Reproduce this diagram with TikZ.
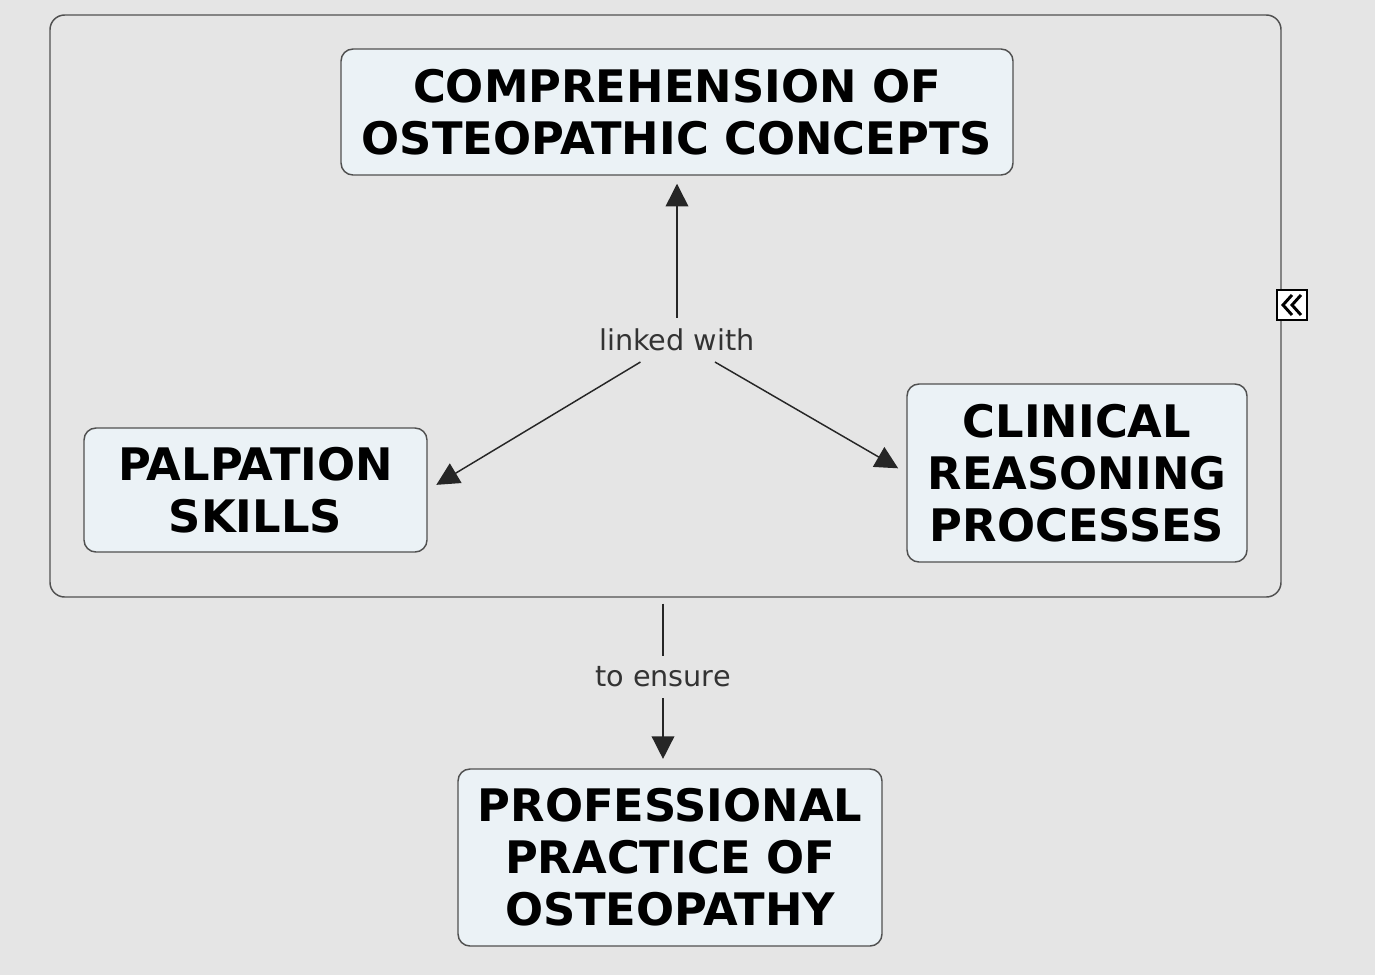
\documentclass[tikz,border=0pt]{standalone}
\usepackage{fontspec}
\setmainfont{DejaVu Sans}
\usepackage{tikz}
\usetikzlibrary{arrows.meta,positioning,calc}
\definecolor{bggray}{RGB}{229,229,229}
\definecolor{conceptfill}{RGB}{235,242,246}
\definecolor{edgegray}{RGB}{80,80,80}

\begin{document}
\begin{tikzpicture}[x=0.75pt,y=-0.75pt,>={Triangle[length=17pt,width=17pt]},
  concept/.style={draw=edgegray,line width=1.1pt,fill=conceptfill,rounded corners=9pt,
    align=center,inner sep=0pt,font=\fontsize{33.6}{39}\selectfont\bfseries},
  phrase/.style={font=\fontsize{21.5}{24}\selectfont,text=black!80,inner xsep=2pt,inner ysep=8pt},
  link/.style={line width=1.1pt,black!85}]
  \fill[bggray] (0,0) rectangle (1375,975);
  \useasboundingbox (0,0) rectangle (1375,975);
  % grouping frame
  \node[draw=edgegray,line width=1.1pt,rounded corners=11pt,minimum width=923.25pt,minimum height=436.5pt] (group) at (665.5,306) {};
  \node[draw=black,fill=white,line width=1pt,minimum size=22.5pt,inner sep=0pt] (collapse) at (1292,305) {};
  \foreach \dx in {0,9}
    \draw[line width=2.2pt] ([shift={(\dx,-10)}]collapse.center) -- ++(-9,10) -- ++(9,10);
  % concepts
  \node[concept,minimum width=504pt,minimum height=94.5pt] (comp) at (677,112) {COMPREHENSION OF\\OSTEOPATHIC CONCEPTS};
  \node[concept,minimum width=257.25pt,minimum height=93pt] (palp) at (255.5,490) {PALPATION\\SKILLS};
  \node[concept,minimum width=255pt,minimum height=133.5pt] (clin) at (1077,473) {CLINICAL\\REASONING\\PROCESSES};
  \node[concept,minimum width=318pt,minimum height=132.75pt] (prof) at (670,857.5) {PROFESSIONAL\\PRACTICE OF\\OSTEOPATHY};
  % linking phrases
  \node[phrase] (linked) at (677,340) {linked with};
  \node[phrase] (ensure) at (663,677) {to ensure};
  \draw[link,->,shorten >=6pt] (linked) -- (comp);
  \draw[link,->,shorten >=7.5pt] (linked) -- (palp.east);
  \draw[link,->,shorten >=7pt] (linked) -- (clin.west);
  \draw[link,shorten <=4.5pt] (group.south -| ensure) -- (ensure);
  \draw[link,->,shorten >=7pt] (ensure) -- (ensure |- prof.north);
\end{tikzpicture}
\end{document}
